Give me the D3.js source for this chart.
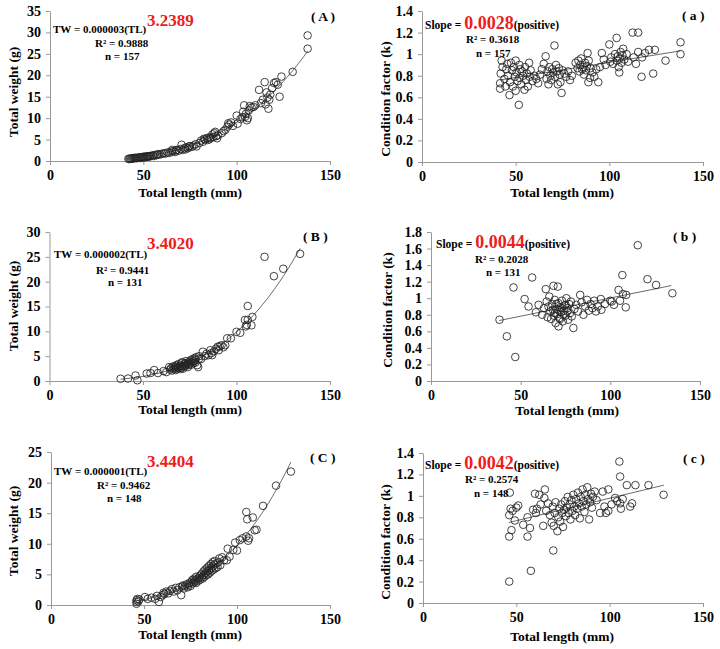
<!DOCTYPE html>
<html>
<head>
<meta charset="utf-8">
<script src="https://cdn.jsdelivr.net/npm/d3@7"></script>
<style>
  body { margin: 0; background: #fff; }
  svg text { font-family: 'Liberation Serif', 'Times New Roman', serif; font-weight: bold; }
</style>
</head>
<body>
<svg id="chart" width="720" height="649"></svg>
<script>
// total length (mm) vs total weight (g)
const pointsA = [[42,0.5],[42.5,0.45],[43,0.6],[43.5,0.5],[44,0.55],[44.5,0.7],[45,0.6],[45.5,0.75],[46,0.7],[46.5,0.65],[47,0.8],[47.5,0.75],[48,0.85],[48.5,0.7],[49,0.9],[49.5,0.8],[50,1.0],[50.5,0.85],[51,1.05],[51.5,0.9],[52,1.1],[52.5,1.0],[53,1.15],[53.5,1.05],[54,1.2],[55,1.3],[55.5,1.15],[56,1.4],[57,1.35],[57.5,1.5],[58,1.6],[59,1.5],[60,1.7],[61,1.8],[62,1.75],[63,2.0],[64,1.9],[65,2.2],[65.5,2.6],[66,2.3],[67,2.1],[67.5,2.5],[68,2.6],[69,2.4],[70,2.8],[70.5,3.8],[71,2.6],[72,3.0],[72.5,2.7],[73,3.2],[74,3.0],[74.5,3.4],[75,3.5],[76,3.3],[77,3.6],[78,3.9],[78.5,3.4],[80,4.2],[81,4.8],[82,4.5],[82.5,5.2],[83,5.0],[84,5.3],[84.5,4.9],[85,5.5],[85.5,5.1],[86,5.4],[87,6.2],[87.5,5.6],[88,6.5],[88.5,6.8],[89,5.8],[89.5,5.3],[90,6.0],[92,6.5],[93,7.0],[94,7.3],[95,8.0],[95.5,8.8],[96,8.5],[97,9.0],[98,8.2],[100,10.6],[100.5,8.7],[102,9.8],[103,10.2],[103.5,11.5],[104,13.0],[104.5,10.3],[105,11.0],[105.5,9.5],[106,10.0],[106.5,11.8],[107,12.8],[108,12.5],[109,12.6],[110,13.0],[112,16.6],[113,13.5],[114,14.3],[115,18.4],[115.5,13.2],[116,16.0],[116.5,14.8],[117,12.2],[117.5,14.3],[118,15.5],[119,17.0],[120,18.2],[121,18.4],[122,17.8],[123,15.0],[124,19.7],[130,20.8],[138,29.3],[138,26.2]];
const pointsB = [[38,0.45],[42,0.5],[46,1.1],[47,0.15],[52,1.5],[54,1.6],[56,2.2],[58,1.6],[61,2.0],[62.5,1.8],[64,2.8],[64.5,2.3],[65,2.6],[65.5,2.1],[66,2.9],[66.5,2.4],[67,2.7],[67,3.0],[67.5,2.2],[68,2.5],[68,3.2],[68.5,2.8],[69,2.6],[69,3.4],[69.5,2.9],[70,2.4],[70,3.1],[70.5,3.6],[70.5,2.7],[71,3.0],[71,3.8],[71.5,2.5],[72,3.3],[72,2.9],[72.5,3.6],[73,3.1],[73,4.0],[73.5,3.4],[74,2.8],[74,3.7],[74.5,3.2],[75,3.9],[75,3.5],[75.5,4.2],[76,3.3],[76,3.8],[76.5,4.4],[77,3.6],[77,4.0],[77.5,4.6],[78,3.7],[78,4.3],[78.5,4.8],[79,3.2],[79.5,2.8],[80,4.5],[80,5.0],[81,4.4],[82,5.9],[83,5.0],[84,5.5],[85,5.2],[86,6.2],[86.5,5.6],[87,5.2],[88,6.0],[89,6.5],[90,6.9],[90.5,6.2],[91,7.0],[92,7.2],[93,6.8],[94,7.2],[95,8.6],[97,8.6],[100,9.9],[102,9.7],[104.5,12.3],[105,11.0],[105.5,11.3],[106,12.3],[106,15.1],[108,11.2],[108.5,12.9],[115,25.0],[120,21.1],[125,22.6],[134,25.6]];
const pointsC = [[46,0.2],[46,0.5],[46,0.8],[46.5,1.0],[47,0.6],[47.5,0.9],[50.5,1.3],[52,1.0],[54,1.2],[56,1.0],[57,1.5],[58,0.5],[59,1.3],[60,1.6],[60.5,2.0],[61,1.8],[62,2.2],[63,1.9],[64,2.3],[65,2.6],[66,2.2],[67,2.8],[68,2.4],[69,2.9],[70,1.6],[70.5,3.0],[71,3.2],[71.5,2.7],[72,3.1],[73,3.4],[73.5,2.9],[74,3.3],[74.5,3.6],[75,3.1],[75.5,3.8],[76,3.5],[76,4.1],[77,3.7],[77,4.3],[77.5,4.0],[78,3.6],[78,4.6],[78.5,4.2],[79,3.9],[79.5,4.4],[80,4.8],[80,4.1],[81,4.5],[81,5.1],[81.5,4.3],[82,4.9],[82,5.5],[82.5,4.6],[83,5.2],[83,5.8],[83.5,4.9],[84,5.5],[84,6.1],[84.5,5.0],[85,5.7],[85,6.4],[85.5,5.3],[86,6.0],[86,6.7],[86.5,5.6],[87,6.3],[87,7.0],[87.5,5.8],[88,6.6],[88,7.2],[88.5,6.0],[89,6.8],[89.5,6.2],[90,7.0],[90.5,7.6],[91,6.5],[92,7.8],[93,7.3],[94.5,7.3],[95,9.2],[96,7.9],[98,9.0],[99,10.2],[100,8.9],[101.5,10.6],[103,10.9],[105,11.2],[105,15.2],[105.5,14.0],[106,10.5],[106.5,10.9],[108.5,14.3],[109.5,12.2],[110.5,12.3],[114,16.2],[121,19.5],[129,21.8]];

// total length (mm) vs condition factor (k)
const pointsKa = [[41.7,0.68],[41.7,0.73],[42,0.82],[42.5,0.94],[43,0.88],[44,0.77],[44.5,0.70],[45,0.86],[45.5,0.91],[46,0.80],[46.7,0.62],[47,0.74],[47.5,0.92],[48,0.85],[48.5,0.70],[49,0.88],[49.5,0.79],[50,0.94],[50,0.66],[50.5,0.83],[51,0.75],[51.7,0.53],[52,0.90],[52,0.78],[52.5,0.86],[53,0.72],[53.5,0.84],[54,0.80],[54.7,0.67],[55,0.88],[55.5,0.76],[56,0.82],[56.5,0.70],[57.2,0.92],[57.5,0.79],[58,0.85],[59,0.75],[60,0.80],[61,0.77],[62,0.73],[63,0.81],[64,0.86],[65,0.91],[66,0.98],[66.5,0.77],[67,0.84],[67.5,0.72],[68,0.88],[68.5,0.80],[69,0.76],[69.5,0.86],[70,0.83],[70.7,1.08],[71,0.79],[71.5,0.90],[72,0.84],[72.5,0.72],[73,0.87],[73.5,0.81],[73.9,0.74],[74.5,0.64],[75,0.85],[76,0.82],[77,0.79],[78,0.84],[79,0.76],[80,0.80],[82,0.92],[83,0.87],[83.5,0.94],[84,0.84],[84.5,0.90],[85,0.96],[85.5,0.86],[86,0.88],[86.5,0.81],[87,0.92],[87.5,0.85],[88,0.89],[88.4,1.01],[88.8,0.74],[89,0.94],[89.7,0.78],[90,0.87],[91,0.83],[92,0.79],[93,0.86],[94.1,0.74],[95,0.88],[96,1.01],[97,0.95],[98,0.90],[100,1.09],[100.5,0.93],[101,0.97],[102,0.91],[103,1.00],[103.9,1.15],[104,0.94],[104.5,0.98],[105,0.88],[105.3,0.83],[105.5,0.96],[106,1.02],[106.5,0.92],[107,0.99],[107.4,1.05],[108,0.95],[109.2,1.00],[110,0.93],[112.4,1.2],[113,0.97],[114.2,0.91],[115.4,1.2],[115.4,1.02],[117.2,0.79],[117.5,0.97],[119,1.01],[121.2,1.04],[123.4,0.82],[124.3,1.04],[130,0.94],[138,1.11],[138,1.0]];
const pointsKb = [[38.2,0.74],[42.3,0.54],[46,1.13],[47,0.29],[52.2,0.99],[54.4,0.90],[56.4,1.25],[58.5,0.83],[60,0.92],[62,0.80],[63,0.88],[64,1.11],[64.5,0.96],[65,0.77],[65.5,0.90],[66,1.02],[66.5,0.84],[67,0.75],[67.5,0.93],[68,0.86],[68.3,1.15],[68.5,0.79],[69,0.98],[69,0.82],[69.5,0.70],[70,0.87],[70,0.93],[70.5,0.81],[70.7,1.14],[71,0.94],[71,0.86],[71.1,0.66],[71.5,0.76],[72,0.89],[72,0.75],[72.5,0.83],[73,0.97],[73,0.88],[73.5,0.72],[74,0.85],[74,0.80],[74.5,0.91],[75,0.79],[75,0.92],[75.5,1.00],[76,0.88],[76,0.84],[76.5,0.74],[77,0.93],[77.5,0.82],[78,0.96],[78.5,0.78],[79.4,0.64],[80,0.87],[81,0.92],[82,0.84],[83.2,1.04],[84,0.95],[85,0.80],[86,0.90],[87,0.98],[88,0.85],[89,0.93],[90,0.88],[91,0.97],[92,0.84],[93,0.90],[94.7,0.99],[95,0.86],[97,0.93],[100,0.97],[100.8,0.96],[102,0.92],[104.6,1.10],[105.4,0.97],[106.7,1.28],[107,1.05],[108.6,0.89],[108.8,1.04],[115.3,1.64],[120.7,1.23],[125.5,1.16],[134.6,1.06]];
const pointsKc = [[46.2,0.20],[57.8,0.30],[69.8,0.49],[46.2,0.62],[47.4,0.68],[46.2,0.82],[46.9,0.88],[48,0.86],[49.2,0.77],[50,0.89],[51,0.91],[46.5,1.03],[53.7,0.73],[56,0.80],[56,0.62],[57.3,0.70],[59,0.87],[60,1.02],[60.5,0.84],[61,0.88],[62.3,1.01],[63,0.92],[64.4,0.72],[65,0.98],[65.3,1.06],[66,0.86],[67,0.93],[68,0.82],[68.9,0.75],[69.5,0.90],[70,0.72],[70.5,0.84],[71,0.94],[72,0.67],[72.5,0.80],[73,0.88],[73.5,0.76],[74,0.92],[74.5,0.84],[75,0.71],[75.5,0.87],[76,0.95],[76.5,0.81],[77,0.89],[77.5,0.99],[78,0.84],[78.5,0.92],[79,0.78],[79.5,0.96],[80,0.86],[80.5,1.01],[81,0.90],[81.5,0.82],[82,0.97],[82.5,0.88],[83,1.03],[83.5,0.93],[84,0.79],[84.5,0.99],[85,0.90],[85.5,1.06],[86,0.95],[86.5,0.85],[87,1.01],[87.5,0.92],[88,1.08],[88.5,0.97],[89,0.78],[89.5,0.94],[90,1.02],[90.5,0.89],[91,0.99],[92,1.04],[93,0.96],[94.9,0.84],[96.3,1.04],[97.2,0.90],[98,0.84],[99.3,1.06],[99.3,0.86],[101,0.92],[102.9,0.98],[104,0.95],[105.2,1.32],[105.6,1.18],[105.6,0.93],[106,0.88],[107,0.97],[109.2,1.10],[111,0.90],[112,0.93],[113.8,1.10],[120.8,1.10],[128.9,1.01]];

// fitted lines: power curve (a, b, from, to) and linear (slope, intercept, from, to)
const powerFits = [[3.0e-6, 3.2389, 42, 138], [1.55e-6, 3.4020, 38, 134], [1.28e-6, 3.4404, 46, 129]];
const linearFits = [[0.0028, 0.644, 42, 138], [0.0044, 0.563, 38, 134], [0.0042, 0.558, 46, 129]];

const xTicks = [0, 50, 100, 150];
const yMaxW = [35, 30, 25];
const yMaxK = [1.4, 1.8, 1.4];
const panelLabels = ["( A )", "( a )", "( B )", "( b )", "( C )", "( c )"];
const equations = ["TW = 0.000003(TL)", "TW = 0.000002(TL)", "TW = 0.000001(TL)"];
const exponents = ["3.2389", "3.4020", "3.4404"];
const slopes = ["0.0028", "0.0044", "0.0042"];
const r2W = ["0.9888", "0.9441", "0.9462"];
const r2K = ["0.3618", "0.2028", "0.2574"];
const counts = ["157", "131", "148"];

const svg = d3.select("#chart");
const RED = "#ee1c1c";

function drawPanel(p) {
    const x = d3.scaleLinear().domain([0, 150]).range([p.x0, p.x1]);
    const y = d3.scaleLinear().domain([0, p.yMax]).range([p.y1, p.y0]);
    const g = svg.append("g");

    const xAxis = g.append("g")
        .attr("transform", `translate(0,${p.y1})`)
        .call(d3.axisBottom(x).tickValues(xTicks).tickSize(4).tickSizeOuter(0).tickPadding(5));
    const yAxis = g.append("g")
        .attr("transform", `translate(${p.x0},0)`)
        .call(d3.axisLeft(y).tickValues(d3.range(0, p.yMax + 1e-9, p.yStep)).tickSize(4).tickSizeOuter(0).tickPadding(5)
            .tickFormat(d => String(+d.toFixed(1))));
    [xAxis, yAxis].forEach(a => {
        a.select(".domain").attr("stroke", "#999").attr("stroke-width", 1);
        a.selectAll(".tick line").attr("stroke", "#999");
        a.selectAll(".tick text").attr("fill", "#000").attr("font-size", 14)
            .attr("font-family", "'Liberation Serif', serif").attr("font-weight", "bold");
    });

    // fitted line
    const line = d3.line().x(d => x(d[0])).y(d => y(d[1]));
    g.append("path").datum(p.fitPts).attr("d", line)
        .attr("fill", "none").attr("stroke", "#444").attr("stroke-width", 0.8);

    g.selectAll("circle.pt").data(p.points).enter().append("circle")
        .attr("class", "pt")
        .attr("cx", d => x(d[0])).attr("cy", d => y(d[1])).attr("r", 3.8)
        .attr("fill", "none").attr("stroke", "#222").attr("stroke-width", 0.85);

    g.append("text").attr("x", p.xt[0]).attr("y", p.xt[1]).attr("text-anchor", "middle")
        .attr("font-size", 13.5).text("Total length (mm)");
    g.append("text").attr("transform", `translate(${p.yt[0]},${p.yt[1]}) rotate(-90)`)
        .attr("text-anchor", "middle").attr("font-size", 13.5).text(p.yTitle);
    g.append("text").attr("x", p.lab[0]).attr("y", p.lab[1]).attr("font-size", 13.5).text(p.label);
}

function powerPts(f) {
    return d3.range(f[2], f[3] + 0.5, 1).map(t => [t, f[0] * Math.pow(t, f[1])]);
}
function linearPts(f) {
    return [[f[2], f[0] * f[2] + f[1]], [f[3], f[0] * f[3] + f[1]]];
}

// layout per row
const rows = [
    { L: { x0: 50, x1: 330, y0: 11, y1: 161, xt: [190, 197], yt: [18, 92], lab: [311, 21] },
      R: { x0: 422, x1: 703, y0: 11, y1: 162, xt: [562, 197], yt: [390, 99], lab: [682, 20] },
      eq: [53, 33], ex: [147, 26], r2: [95, 47], n: [105, 60],
      sl: [425, 29], r2k: [466, 43], nk: [476, 57] },
    { L: { x0: 49.5, x1: 330, y0: 232, y1: 381, xt: [190, 414], yt: [18, 306], lab: [303, 241] },
      R: { x0: 431, x1: 700, y0: 232, y1: 381, xt: [567, 415], yt: [392, 310], lab: [673, 241] },
      eq: [54, 258], ex: [147, 249], r2: [96, 274], n: [108, 286],
      sl: [436, 248], r2k: [475, 263], nk: [486, 276] },
    { L: { x0: 51, x1: 330, y0: 452, y1: 605, xt: [190, 639], yt: [18, 531], lab: [310, 462] },
      R: { x0: 423, x1: 703, y0: 453, y1: 603, xt: [562, 641], yt: [390, 542], lab: [683, 463] },
      eq: [54, 475], ex: [147, 467], r2: [97, 489], n: [107, 502],
      sl: [425, 469], r2k: [465, 483], nk: [474, 497] }
];
const wPoints = [pointsA, pointsB, pointsC];
const kPoints = [pointsKa, pointsKb, pointsKc];

rows.forEach((r, i) => {
    drawPanel(Object.assign({}, r.L, { yMax: yMaxW[i], yStep: 5, points: wPoints[i],
        fitPts: powerPts(powerFits[i]), yTitle: "Total weight (g)", label: panelLabels[i * 2] }));
    drawPanel(Object.assign({}, r.R, { yMax: yMaxK[i], yStep: 0.2, points: kPoints[i],
        fitPts: linearPts(linearFits[i]), yTitle: "Condition  factor (k)", label: panelLabels[i * 2 + 1] }));

    svg.append("text").attr("x", r.eq[0]).attr("y", r.eq[1]).attr("font-size", 11).text(equations[i]);
    svg.append("text").attr("x", r.ex[0]).attr("y", r.ex[1]).attr("font-size", 17).attr("fill", RED).text(exponents[i]);
    svg.append("text").attr("x", r.r2[0]).attr("y", r.r2[1]).attr("font-size", 11).text("R² = " + r2W[i]);
    svg.append("text").attr("x", r.n[0]).attr("y", r.n[1]).attr("font-size", 11).text("n = " + counts[i]);

    const s = svg.append("text").attr("x", r.sl[0]).attr("y", r.sl[1]).attr("font-size", 11.5);
    s.append("tspan").text("Slope = ");
    s.append("tspan").attr("font-size", 18).attr("fill", RED).text(slopes[i]);
    s.append("tspan").text("(positive)");
    svg.append("text").attr("x", r.r2k[0]).attr("y", r.r2k[1]).attr("font-size", 11).text("R² = " + r2K[i]);
    svg.append("text").attr("x", r.nk[0]).attr("y", r.nk[1]).attr("font-size", 11).text("n = " + counts[i]);
});
</script>
</body>
</html>
